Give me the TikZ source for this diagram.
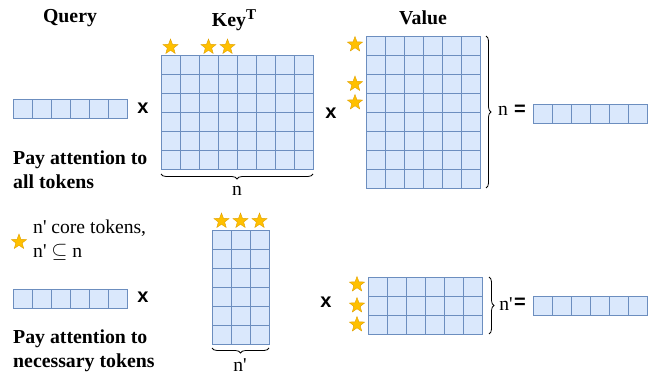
\documentclass[tikz,border=0pt]{standalone}
\usepackage{fontspec}
\setmainfont{Liberation Serif}
\setsansfont{Liberation Sans}
\usepackage{tikz}
\usetikzlibrary{shapes.geometric,decorations.pathreplacing,calc}
\definecolor{zellf}{HTML}{DAE8FC}
\definecolor{zellr}{HTML}{6C8EBF}
\definecolor{sternf}{HTML}{FFC000}
\definecolor{sternr}{HTML}{E0A000}
\tikzset{
  zelle/.style={fill=zellf,draw=zellr,line width=0.9pt},
  stern/.style={star,star points=5,star point ratio=2.4,fill=sternf,draw=sternr,line width=0.4pt,inner sep=0pt,minimum size=16pt},
  titel/.style={font=\bfseries\fontsize{19.8}{24}\selectfont,inner sep=0pt},
  txt/.style={font=\fontsize{19.6}{23.5}\selectfont,inner sep=0pt},
  mal/.style={font=\sffamily\bfseries\fontsize{20}{20}\selectfont,inner sep=0pt},
  klammer/.style={decorate,decoration={brace,amplitude=5pt},line width=0.8pt},
}
% raster: name, left, top, columns, rows (cell = 19)
\newcommand{\raster}[5]{%
  \foreach \i in {1,...,#4}{\foreach \j in {1,...,#5}{%
    \draw[zelle] ({#2+(\i-1)*19},{#3+(\j-1)*19}) rectangle ++(19,19);}}
  \coordinate (#1-nw) at (#2,#3);
  \coordinate (#1-ne) at ({#2+#4*19},#3);
  \coordinate (#1-sw) at (#2,{#3+#5*19});
  \coordinate (#1-se) at ({#2+#4*19},{#3+#5*19});}
\begin{document}
\begin{tikzpicture}[x=1pt,y=-1pt]
  \useasboundingbox (0,0) rectangle (655,377);
  % titles
  \node[titel] (query) at (70,18) {Query};
  \node[titel] (key) at (234,20) {Key\raisebox{7pt}{\fontsize{15}{15}\selectfont T}};
  \node[titel] (value) at (423,18) {Value};
  % full attention
  \raster{q1}{13}{99}{6}{1}
  \raster{k1}{161}{55}{8}{6}
  \raster{v1}{366}{36}{6}{8}
  \raster{o1}{533}{104}{6}{1}
  \node[mal] (x1) at (143,108) {x};
  \node[mal] (x2) at (331,113) {x};
  \foreach \s/\px in {a/170.5,b/208.5,c/227.5}
    \node[stern] (k1\s) at (\px,47) {};
  \foreach \s/\py in {a/44.5,b/84,c/102.5}
    \node[stern] (v1\s) at (355,\py) {};
  \draw[klammer] ([yshift=-5pt]k1-se) -- ([yshift=-5pt]k1-sw);
  \node[txt] (n1) at (237,191) {n};
  \draw[klammer] ([xshift=6pt]v1-ne) -- ([xshift=6pt]v1-se);
  \node[txt] (n2) at (503,111) {n};
  \node[mal] (eq1) at (520,110) {=};
  \node[titel,align=left,anchor=west] (attAll) at (13,170) {Pay attention to\\all tokens};
  % legend
  \node[stern] (leg) at (19,242) {};
  \node[txt,align=left,anchor=west] (legtxt) at (33,240) {n\textquotesingle{} core tokens,\\n\textquotesingle{} $\subseteq$ n};
  % necessary attention
  \raster{q2}{13}{289}{6}{1}
  \raster{k2}{212}{230}{3}{6}
  \raster{v2}{368}{277}{6}{3}
  \raster{o2}{533}{296}{6}{1}
  \node[mal] (x3) at (143,297) {x};
  \node[mal] (x4) at (326,302) {x};
  \foreach \s/\py in {a/221.5,b/240.5,c/259.5}
    \node[stern] (k2\s) at (\py,221) {};
  \foreach \s/\py in {a/284.5,b/305.5,c/324.5}
    \node[stern] (v2\s) at (357,\py) {};
  \draw[klammer] ([yshift=-4pt]k2-se) -- ([yshift=-4pt]k2-sw);
  \node[txt] (n3) at (240,365) {n\textquotesingle};
  \draw[klammer] ([xshift=7pt]v2-ne) -- ([xshift=7pt]v2-se);
  \node[txt] (n4) at (506,304) {n\textquotesingle};
  \node[mal] (eq2) at (520,303) {=};
  \node[titel,align=left,anchor=west] (attNec) at (13,351) {Pay attention to\\necessary tokens};
\end{tikzpicture}
\end{document}
